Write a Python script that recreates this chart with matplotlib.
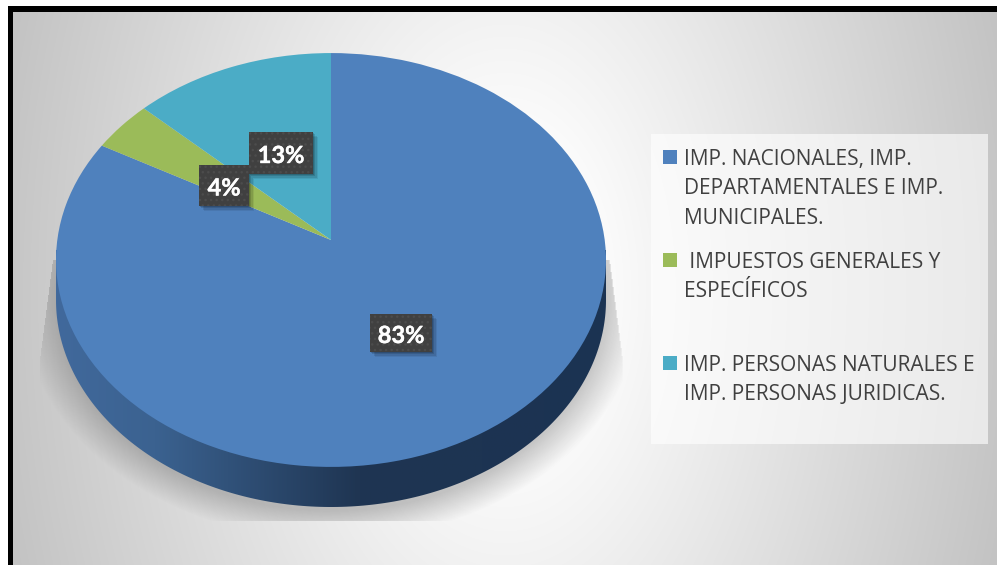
import numpy as np
import matplotlib
matplotlib.use('Agg')
import matplotlib.pyplot as plt
import matplotlib.patheffects as pe
from matplotlib.colors import LinearSegmentedColormap
from matplotlib.patches import Rectangle, Polygon
from matplotlib.transforms import Transform

# datos del grafico
categorias = ['IMP. NACIONALES, IMP.\nDEPARTAMENTALES E IMP.\nMUNICIPALES.',
              ' IMPUESTOS GENERALES Y\nESPECÍFICOS',
              'IMP. PERSONAS NATURALES E\nIMP. PERSONAS JURIDICAS.']
valores = [83, 4, 13]
colores = ['#4f81bd', '#9bbb59', '#4bacc6']

W, H = 997, 565
CX, CY = 331, 240     # vertice de la torta
K = 0.0966            # perspectiva
AX_X, AX_Y = 273.7, 205


class Perspectiva(Transform):
    input_dims = 2
    output_dims = 2

    def transform_non_affine(self, values):
        values = np.asarray(values)
        d = 1 + K * values[:, 1]
        return np.column_stack((CX + AX_X * values[:, 0] / d,
                                CY - AX_Y * values[:, 1] / d))


fig = plt.figure(figsize=(W / 100, H / 100), dpi=100)
ax = fig.add_axes([0, 0, 1, 1])

# torta
wedges, _ = ax.pie(valores, colors=colores, startangle=90, counterclock=False,
                   radius=1, frame=False)
ax.set_aspect('auto')
ax.set_xlim(0, W)
ax.set_ylim(H, 0)
ax.axis('off')
per = Perspectiva() + ax.transData
for w in wedges:
    w.set_transform(per)
    w.set_zorder(5)
    w.set_linewidth(0)

# fondo con degradado
xx, yy = np.meshgrid(np.arange(W) + 0.5, np.arange(H) + 0.5)
r = np.sqrt(((xx - 505) / 490) ** 2 + ((yy - 290) / 800) ** 2)
gris = np.clip(1.0 - 0.22 * np.clip(r - 0.15, 0, None) / 0.85, 0.72, 1)
fondo = np.dstack([gris] * 3)
ax.imshow(fondo, extent=(0, W, H, 0), aspect='auto', zorder=0, interpolation='bilinear')

# marco
ax.add_patch(Rectangle((0, 0), W, 6, fc='white', ec='none', zorder=1))
ax.add_patch(Rectangle((0, 0), 8, H, fc='white', ec='none', zorder=1))
ax.add_patch(Rectangle((8, 6), W - 8, 6, fc='black', ec='none', zorder=1))
ax.add_patch(Rectangle((8, 6), 5, H - 6, fc='black', ec='none', zorder=1))

# sombra bajo la torta
d = np.sqrt(((xx - 331) / 310) ** 2 + ((yy - 300) / 240) ** 2)
a = np.clip((1.0 - d) / 0.12, 0, 1) * 0.33
lim = 13 * np.clip((yy - 260) / 100, 0, 1)
a[(np.abs(xx - 331) > 278 + lim) | (yy > 521) | (yy < 260)] = 0
sombra = np.dstack([np.full_like(a, 0.35)] * 3 + [a])
ax.imshow(sombra, extent=(0, W, H, 0), aspect='auto', zorder=2, interpolation='bilinear')

# pared del cilindro
cmap = LinearSegmentedColormap.from_list('pared', [(0, '#41699c'), (0.18, '#3b6290'),
                                                   (0.55, '#1f3552'), (1, '#1b3352')])
grad = ax.imshow(np.linspace(0, 1, 256)[None, :], extent=(56, 606, 520, 240), aspect='auto',
                 cmap=cmap, zorder=3)
t = np.linspace(np.pi, 0, 200)
borde = np.column_stack((331 + 275 * np.cos(t), 300 + 207 * np.sin(t)))
pared = Polygon(np.vstack(([[56, 250], [606, 250]], borde[::-1])), closed=True,
                transform=ax.transData, fc='none', ec='none')
ax.add_patch(pared)
grad.set_clip_path(pared)
ax.set_xlim(0, W)
ax.set_ylim(H, 0)

# leyenda
ax.add_patch(Rectangle((651, 134), 337, 310, fc='white', alpha=0.62, ec='none', zorder=4))
pos_ley = [150, 253, 356]
for cat, col, y in zip(categorias, colores, pos_ley):
    ax.add_patch(Rectangle((663, y), 14, 14, fc=col, ec='none', zorder=6))
    for i, linea in enumerate(cat.split('\n')):
        ax.text(684, y + 9.5 + i * 29.3, linea, family='Open Sans', fontsize=15, color='#404040',
                va='center', ha='left', zorder=6)

# etiquetas de datos
cajas = [(370, 314, 62, 38), (199, 165, 50, 41), (249, 132, 64, 42)]
for v, (x, y, bw, bh) in zip(valores, cajas):
    for s, al in zip((6, 4.5, 3, 1.5), (0.07, 0.10, 0.13, 0.16)):
        ax.add_patch(Rectangle((x + s - 1, y + s - 1), bw, bh, fc='black', alpha=al, ec='none', zorder=7))
    ax.add_patch(Rectangle((x, y), bw, bh, fc='#404040', ec='none', zorder=8))
    ax.add_patch(Rectangle((x, y), bw, bh, fc='none', ec='#4c4c4c', hatch='...', lw=0, zorder=8))
    ax.text(x + bw / 2, y + bh / 2 + 2.5, f'{v}%', family='Lato', weight='bold', fontsize=17,
            color='white', ha='center', va='center', zorder=9,
            path_effects=[pe.withStroke(linewidth=0.3, foreground='white')])

fig.savefig('out.png', dpi=100)
